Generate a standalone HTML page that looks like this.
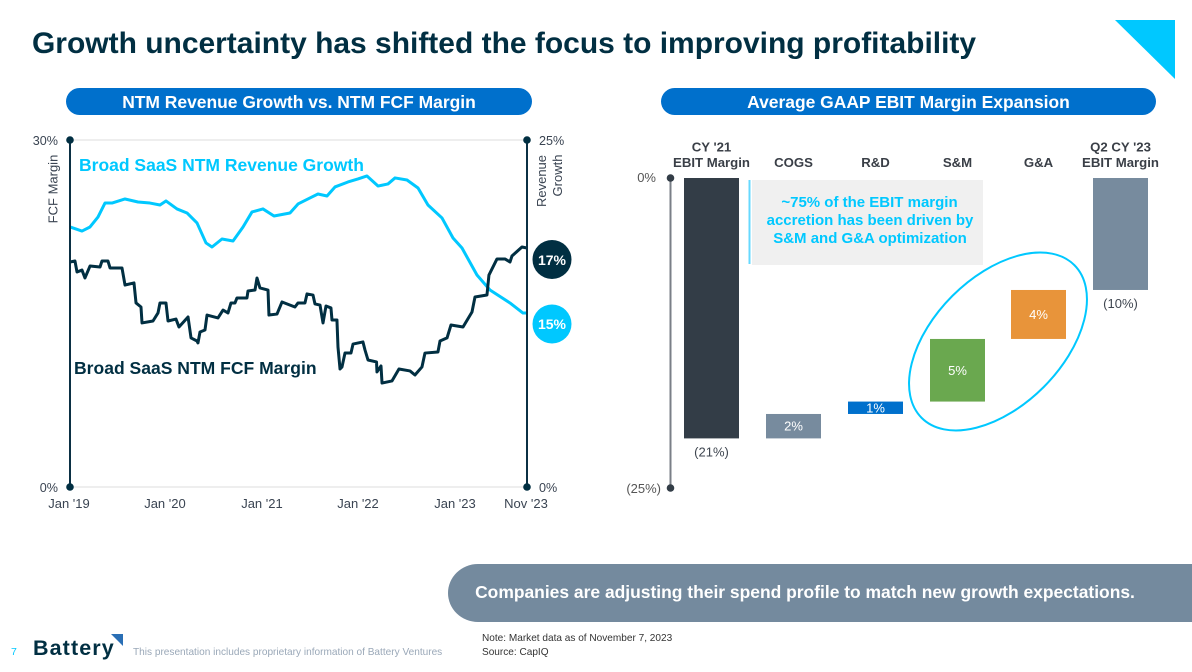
<!DOCTYPE html>
<html>
<head>
<meta charset="utf-8">
<title>Growth uncertainty has shifted the focus to improving profitability</title>
<style>
html,body{margin:0;padding:0;background:#fff;width:1192px;height:672px;overflow:hidden}
svg{display:block;font-family:"Liberation Sans",Arial,sans-serif}
</style>
</head>
<body>
<svg id="slide" width="1192" height="672" viewBox="0 0 1192 672" xmlns="http://www.w3.org/2000/svg">
  <rect x="0" y="0" width="1192" height="672" fill="#ffffff"/>
  <text x="32" y="53" font-size="29.98" font-weight="700" fill="#012f42">Growth uncertainty has shifted the focus to improving profitability</text>
  <polygon points="1115,20 1175,20 1175,79" fill="#00c8ff"/>

  <rect x="66" y="88" width="466" height="27" rx="13.5" fill="#0070cc"/>
  <text x="299" y="108" font-size="17.45" font-weight="700" fill="#fff" text-anchor="middle">NTM Revenue Growth vs. NTM FCF Margin</text>
  <rect x="661" y="88" width="495" height="27" rx="13.5" fill="#0070cc"/>
  <text x="908.500" y="108" font-size="17.45" font-weight="700" fill="#fff" text-anchor="middle">Average GAAP EBIT Margin Expansion</text>

  <g id="line-chart">
    <line x1="70" y1="140" x2="527" y2="140" stroke="#eeeeee" stroke-width="2"/>
    <line x1="70" y1="487" x2="527" y2="487" stroke="#eeeeee" stroke-width="2"/>
    <g id="line-series"></g>
    <line x1="70" y1="140" x2="70" y2="487" stroke="#0b3044" stroke-width="2"/>
    <line x1="527" y1="140" x2="527" y2="487" stroke="#0b3044" stroke-width="2"/>
    <circle cx="70" cy="140" r="3.8" fill="#012f42"/>
    <circle cx="70" cy="487" r="3.8" fill="#012f42"/>
    <circle cx="527" cy="140" r="3.8" fill="#012f42"/>
    <circle cx="527" cy="487" r="3.8" fill="#012f42"/>
    <g id="x-ticks"></g>
    <text x="58" y="145" font-size="12.6" fill="#3a4452" text-anchor="end">30%</text>
    <text x="58" y="492" font-size="12.6" fill="#3a4452" text-anchor="end">0%</text>
    <text x="539" y="145" font-size="12.6" fill="#3a4452">25%</text>
    <text x="539" y="492" font-size="12.6" fill="#3a4452">0%</text>
    <text transform="translate(57.5,189) rotate(-90)" font-size="13" fill="#3a4452" text-anchor="middle">FCF Margin</text>
    <text transform="translate(546,181) rotate(-90)" font-size="13" fill="#3a4452" text-anchor="middle">Revenue</text>
    <text transform="translate(562,175.5) rotate(-90)" font-size="13" fill="#3a4452" text-anchor="middle">Growth</text>
    <text x="79" y="171" font-size="17.5" font-weight="700" fill="#00c8ff">Broad SaaS NTM Revenue Growth</text>
    <text x="74" y="374" font-size="17.55" font-weight="700" fill="#012f42">Broad SaaS NTM FCF Margin</text>
    <circle cx="552" cy="259.500" r="19.500" fill="#012f42"/>
    <text x="552" y="265" font-size="14" font-weight="700" fill="#fff" text-anchor="middle">17%</text>
    <circle cx="552" cy="324" r="19.500" fill="#00c8ff"/>
    <text x="552" y="329" font-size="14" font-weight="700" fill="#fff" text-anchor="middle">15%</text>
  </g>

  <g id="waterfall-chart">
    <line x1="670.500" y1="178" x2="670.500" y2="488" stroke="#7a7f87" stroke-width="2"/>
    <circle cx="670.500" cy="178" r="3.800" fill="#333d47"/>
    <circle cx="670.500" cy="488" r="3.800" fill="#333d47"/>
    <text x="656" y="182" font-size="13" fill="#555" text-anchor="end">0%</text>
    <text x="661" y="493" font-size="13" fill="#555" text-anchor="end">(25%)</text>
    <g id="waterfall-bars"></g>
    <rect x="752" y="180" width="231" height="85" fill="#f0f0f0"/>
    <line x1="749.500" y1="180" x2="749.500" y2="264" stroke="#66d9ff" stroke-width="2"/>
    <text x="869.500" y="207" font-size="15" font-weight="700" fill="#00c8ff" text-anchor="middle">~75% of the EBIT margin</text>
    <text x="870" y="225" font-size="15" font-weight="700" fill="#00c8ff" text-anchor="middle">accretion has been driven by</text>
    <text x="870" y="243" font-size="15" font-weight="700" fill="#00c8ff" text-anchor="middle">S&amp;M and G&amp;A optimization</text>
    <ellipse cx="998" cy="341.500" rx="108" ry="64.5" transform="rotate(-45 998 341.500)" fill="none" stroke="#00c8ff" stroke-width="2"/>
  </g>

  <path d="M1192 564H478a30 29 0 0 0 -30 29a30 29 0 0 0 30 29H1192Z" fill="#748a9e"/>
  <text x="805" y="598" font-size="17.46" font-weight="700" fill="#fff" text-anchor="middle">Companies are adjusting their spend profile to match new growth expectations.</text>

  <text x="11" y="655" font-size="10.500" fill="#00c8ff">7</text>
  <text x="33" y="655" font-size="21.5" font-weight="700" letter-spacing="1.1" fill="#012f42">Battery</text>
  <polygon points="111,634 123,634 123,646" fill="#2a6fb5"/>
  <text x="133" y="655" font-size="10.08" fill="#9aa8b8">This presentation includes proprietary information of Battery Ventures</text>
  <text x="482" y="641" font-size="10.07" fill="#333">Note: Market data as of November 7, 2023</text>
  <text x="482" y="655" font-size="10.07" fill="#333">Source: CapIQ</text>
</svg>

<script>
// Line chart data. Months are counted from Jan 2019; values are percentages.
const revenueMonths = [0,1.52,2.54,3.55,4.44,5.33,6.98,8.63,10.15,11.42,12.18,13.58,14.85,16.12,17.26,18.02,19.29,20.69,21.96,23.10,24.49,25.89,27.92,28.94,30.46,31.47,32.62,33.63,35.28,36.55,37.69,39.09,40.36,41.25,42.77,44.17,45.43,47.21,48.61,49.75,51.65,53.30,55.84,57.49,58];
const revenueGrowth = [22.48,22.13,22.48,23.34,24.55,24.55,24.90,24.64,24.55,24.38,24.73,24.04,23.69,22.83,21.10,20.75,21.44,21.27,22.48,23.78,24.04,23.43,23.69,24.47,24.99,25.33,25.16,25.94,26.37,26.63,26.89,26.02,26.20,26.72,26.54,25.85,24.38,23.26,21.53,20.66,18.33,17.03,15.91,15.04,15.04];
const fcfMonths = [0,0.63,0.89,1.52,1.90,2.54,3.81,4.06,4.82,5.08,6.60,6.98,8.12,8.38,9.01,9.14,10.53,11.17,11.42,12.18,12.44,13.45,13.83,14.98,15.36,16.12,16.24,16.50,17.13,17.39,18.78,19.42,20.05,20.43,20.94,21.19,22.46,22.59,23.48,23.73,24.11,25.13,25.25,26.27,26.91,28.55,28.94,29.82,30.08,30.84,31.09,31.73,32.11,32.49,33.12,33.25,33.88,34.01,34.27,34.52,34.90,35.66,35.92,37.18,37.44,37.82,38.90,38.96,39.47,39.60,40.86,41.75,43.15,43.78,44.67,45.05,46.70,46.96,47.85,48.35,49.88,51.02,51.40,52.92,53.17,54.19,55.20,55.84,56.09,57.36,58];
const fcfMargin = [16.21,16.28,15.49,15.63,15.06,15.92,15.85,16.28,16.28,15.78,15.78,14.55,14.70,13.26,12.97,11.82,11.96,12.54,13.26,13.26,11.96,12.10,11.53,12.25,10.74,10.52,10.38,11.17,11.31,12.39,12.18,12.75,12.54,13.26,13.26,13.62,13.62,14.12,14.19,15.06,14.34,14.19,12.39,12.46,13.33,12.97,13.26,13.26,13.91,13.83,13.19,13.11,11.82,13.04,12.90,12.03,12.03,10.09,8.50,8.65,9.65,9.65,10.30,10.45,9.87,9.15,9.01,8.29,8.72,7.49,7.64,8.50,8.36,8.07,8.65,9.65,9.73,10.52,10.74,11.67,11.53,12.61,13.69,13.83,15.27,16.43,16.43,16.21,16.64,17.29,17.22];
const xTickMonths = [0,12.18,24.49,36.68,48.99,58];
const xTickLabels = ["Jan '19","Jan '20","Jan '21","Jan '22","Jan '23","Nov '23"];

// Waterfall chart data, in percentage points of margin.
const waterfallCategories = [["CY '21","EBIT Margin"],["COGS"],["R&D"],["S&M"],["G&A"],["Q2 CY '23","EBIT Margin"]];
const waterfallValues = [-21,1.97,1,5.05,3.95,-9.03];
const waterfallKinds = ["total","delta","delta","delta","delta","total"];
const waterfallColors = ["#333d47","#778b9e","#0070cc","#6aa84f","#e8943a","#778b9e"];
const waterfallPrinted = ["(21%)","2%","1%","5%","4%","(10%)"];

const NS = 'http://www.w3.org/2000/svg';
function make(tag, attrs, text) {
  const el = document.createElementNS(NS, tag);
  for (const k in attrs) el.setAttribute(k, attrs[k]);
  if (text !== undefined) el.textContent = text;
  return el;
}

// Line chart axes
const xMonth = m => 70 + (m / 58) * 457;
const yRevenue = v => 487 - (v / 30) * 347;
const yFcf = v => 487 - (v / 25) * 347;
function pathFrom(xs, ys, yFn) {
  return xs.map((m, i) => (i ? 'L' : 'M') + xMonth(m).toFixed(2) + ' ' + yFn(ys[i]).toFixed(2)).join('');
}
const seriesGroup = document.getElementById('line-series');
const revenuePath = make('path', {d: pathFrom(revenueMonths, revenueGrowth, yRevenue), fill: 'none', stroke: '#00c8ff', 'stroke-width': 3, 'stroke-linejoin': 'round'});


seriesGroup.appendChild(revenuePath);
const fcfPath = make('path', {d: pathFrom(fcfMonths, fcfMargin, yFcf), fill: 'none', stroke: '#012f42', 'stroke-width': 3, 'stroke-linejoin': 'round'});


seriesGroup.appendChild(fcfPath);

const tickGroup = document.getElementById('x-ticks');
xTickMonths.forEach((m, i) => {
  const t = make('text', {x: xMonth(m) - 1, y: 508, 'font-size': 13, fill: '#3a4452', 'text-anchor': 'middle'}, xTickLabels[i]);
  
  
  tickGroup.appendChild(t);
});

// Waterfall axes
const yMargin = v => 178 - (v / 25) * 310;
const barLeft = i => Math.round(684.3 + i * 81.75);
const barWidth = 55;
const barsGroup = document.getElementById('waterfall-bars');
let running = 0;
waterfallValues.forEach((v, i) => {
  let start, end;
  if (waterfallKinds[i] === 'total') { start = 0; end = v; running = v; }
  else { start = running; end = running + v; running = end; }
  const top = yMargin(Math.max(start, end));
  const bottom = yMargin(Math.min(start, end));
  const x = barLeft(i);
  const cx = x + barWidth / 2;
  const rect = make('rect', {x: x, y: top, width: barWidth, height: bottom - top, fill: waterfallColors[i]});
  
  
  barsGroup.appendChild(rect);

  const isTotal = waterfallKinds[i] === 'total';
  const labelY = isTotal ? bottom + 18 : (top + bottom) / 2 + 4.5;
  const label = make('text', {x: cx, y: labelY, 'font-size': 13, fill: isTotal ? '#3f4650' : '#fff', 'text-anchor': 'middle'}, waterfallPrinted[i]);
  
  
  barsGroup.appendChild(label);

  const lines = waterfallCategories[i];
  lines.forEach((line, j) => {
    const head = make('text', {x: cx, y: 167 - (lines.length - 1 - j) * 15.5, 'font-size': 13.2, 'font-weight': 700, fill: '#3a3f47', 'text-anchor': 'middle'}, line);
    
    
    barsGroup.appendChild(head);
  });
});
</script>
</body>
</html>
